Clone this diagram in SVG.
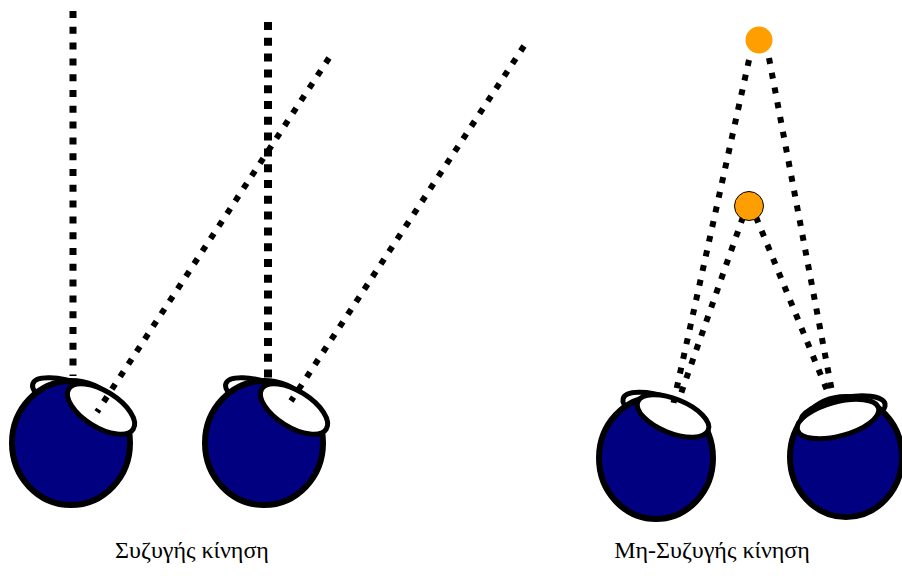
<svg xmlns="http://www.w3.org/2000/svg" width="902" height="576" viewBox="0 0 902 576">
  <style>
    .ball { fill: #000080; stroke: #000; stroke-width: 6; }
    .rim { fill: #fff; stroke: #000; stroke-width: 5; }
    .cornea { fill: #fff; stroke: #000; stroke-width: 5; }
    .cord { fill: none; stroke: #000; stroke-width: 6; stroke-dasharray: 6 9; }
    .cord-v1 { stroke-width: 7; stroke-dasharray: 7 8.8; }
    .cord-v2 { stroke-width: 8; stroke-dasharray: 8 7.8; }
    .target { fill: #ff9e00; }
    .label { font-family: "Liberation Serif", "DejaVu Serif", serif; font-size: 24px; fill: #000; text-anchor: middle; }
  </style>

  <rect width="902" height="576" fill="#fff"/>

  <!-- eyeballs: rim behind, ball, cornea on top -->
  <g id="eye1">
    <ellipse class="rim" cx="78" cy="400" rx="48" ry="16" transform="rotate(20 78 400)"/>
    <ellipse class="ball" cx="71" cy="443" rx="59" ry="62"/>
    <ellipse class="cornea" cx="101" cy="409" rx="38" ry="18" transform="rotate(32 101 409)"/>
  </g>
  <g id="eye2">
    <ellipse class="rim" cx="271" cy="400" rx="48" ry="16" transform="rotate(20 271 400)"/>
    <ellipse class="ball" cx="264" cy="443" rx="59" ry="62"/>
    <ellipse class="cornea" cx="294" cy="409" rx="38" ry="18" transform="rotate(32 294 409)"/>
  </g>
  <g id="eye3">
    <ellipse class="rim" cx="665" cy="412" rx="44" ry="15" transform="rotate(18 665 412)"/>
    <ellipse class="ball" cx="656" cy="458" rx="57" ry="61"/>
    <ellipse class="cornea" cx="673" cy="416" rx="38" ry="17" transform="rotate(22 673 416)"/>
  </g>
  <g id="eye4">
    <ellipse class="rim" cx="843" cy="413" rx="43" ry="15" transform="rotate(-12 843 413)"/>
    <ellipse class="ball" cx="846" cy="457" rx="56" ry="60"/>
    <ellipse class="cornea" cx="838" cy="419" rx="42" ry="17" transform="rotate(-15 838 419)"/>
  </g>

  <!-- sight lines -->
  <g id="connectors">
    <line class="cord cord-v1" x1="73" y1="11" x2="73" y2="376"/>
    <line class="cord" x1="329" y1="58" x2="97" y2="412"/>
    <line class="cord cord-v2" x1="268" y1="22" x2="268" y2="382"/>
    <line class="cord" x1="524" y1="46" x2="291" y2="401"/>
    <line class="cord" x1="749" y1="60" x2="673" y2="405"/>
    <line class="cord" x1="769" y1="58" x2="834" y2="402"/>
    <line class="cord" x1="743" y1="217" x2="678" y2="402"/>
    <line class="cord" x1="756" y1="217" x2="831" y2="400"/>
  </g>

  <!-- fixation targets -->
  <g id="target-far">
    <circle class="target" cx="759" cy="40" r="13.5"/>
  </g>
  <g id="target-near">
    <circle class="target" cx="749" cy="206" r="14.5" stroke="#000" stroke-width="1"/>
  </g>

  <g id="labels">
    <text class="label" x="192" y="558">Συζυγής κίνηση</text>
    <text class="label" x="712" y="558">Μη-Συζυγής κίνηση</text>
  </g>
</svg>
